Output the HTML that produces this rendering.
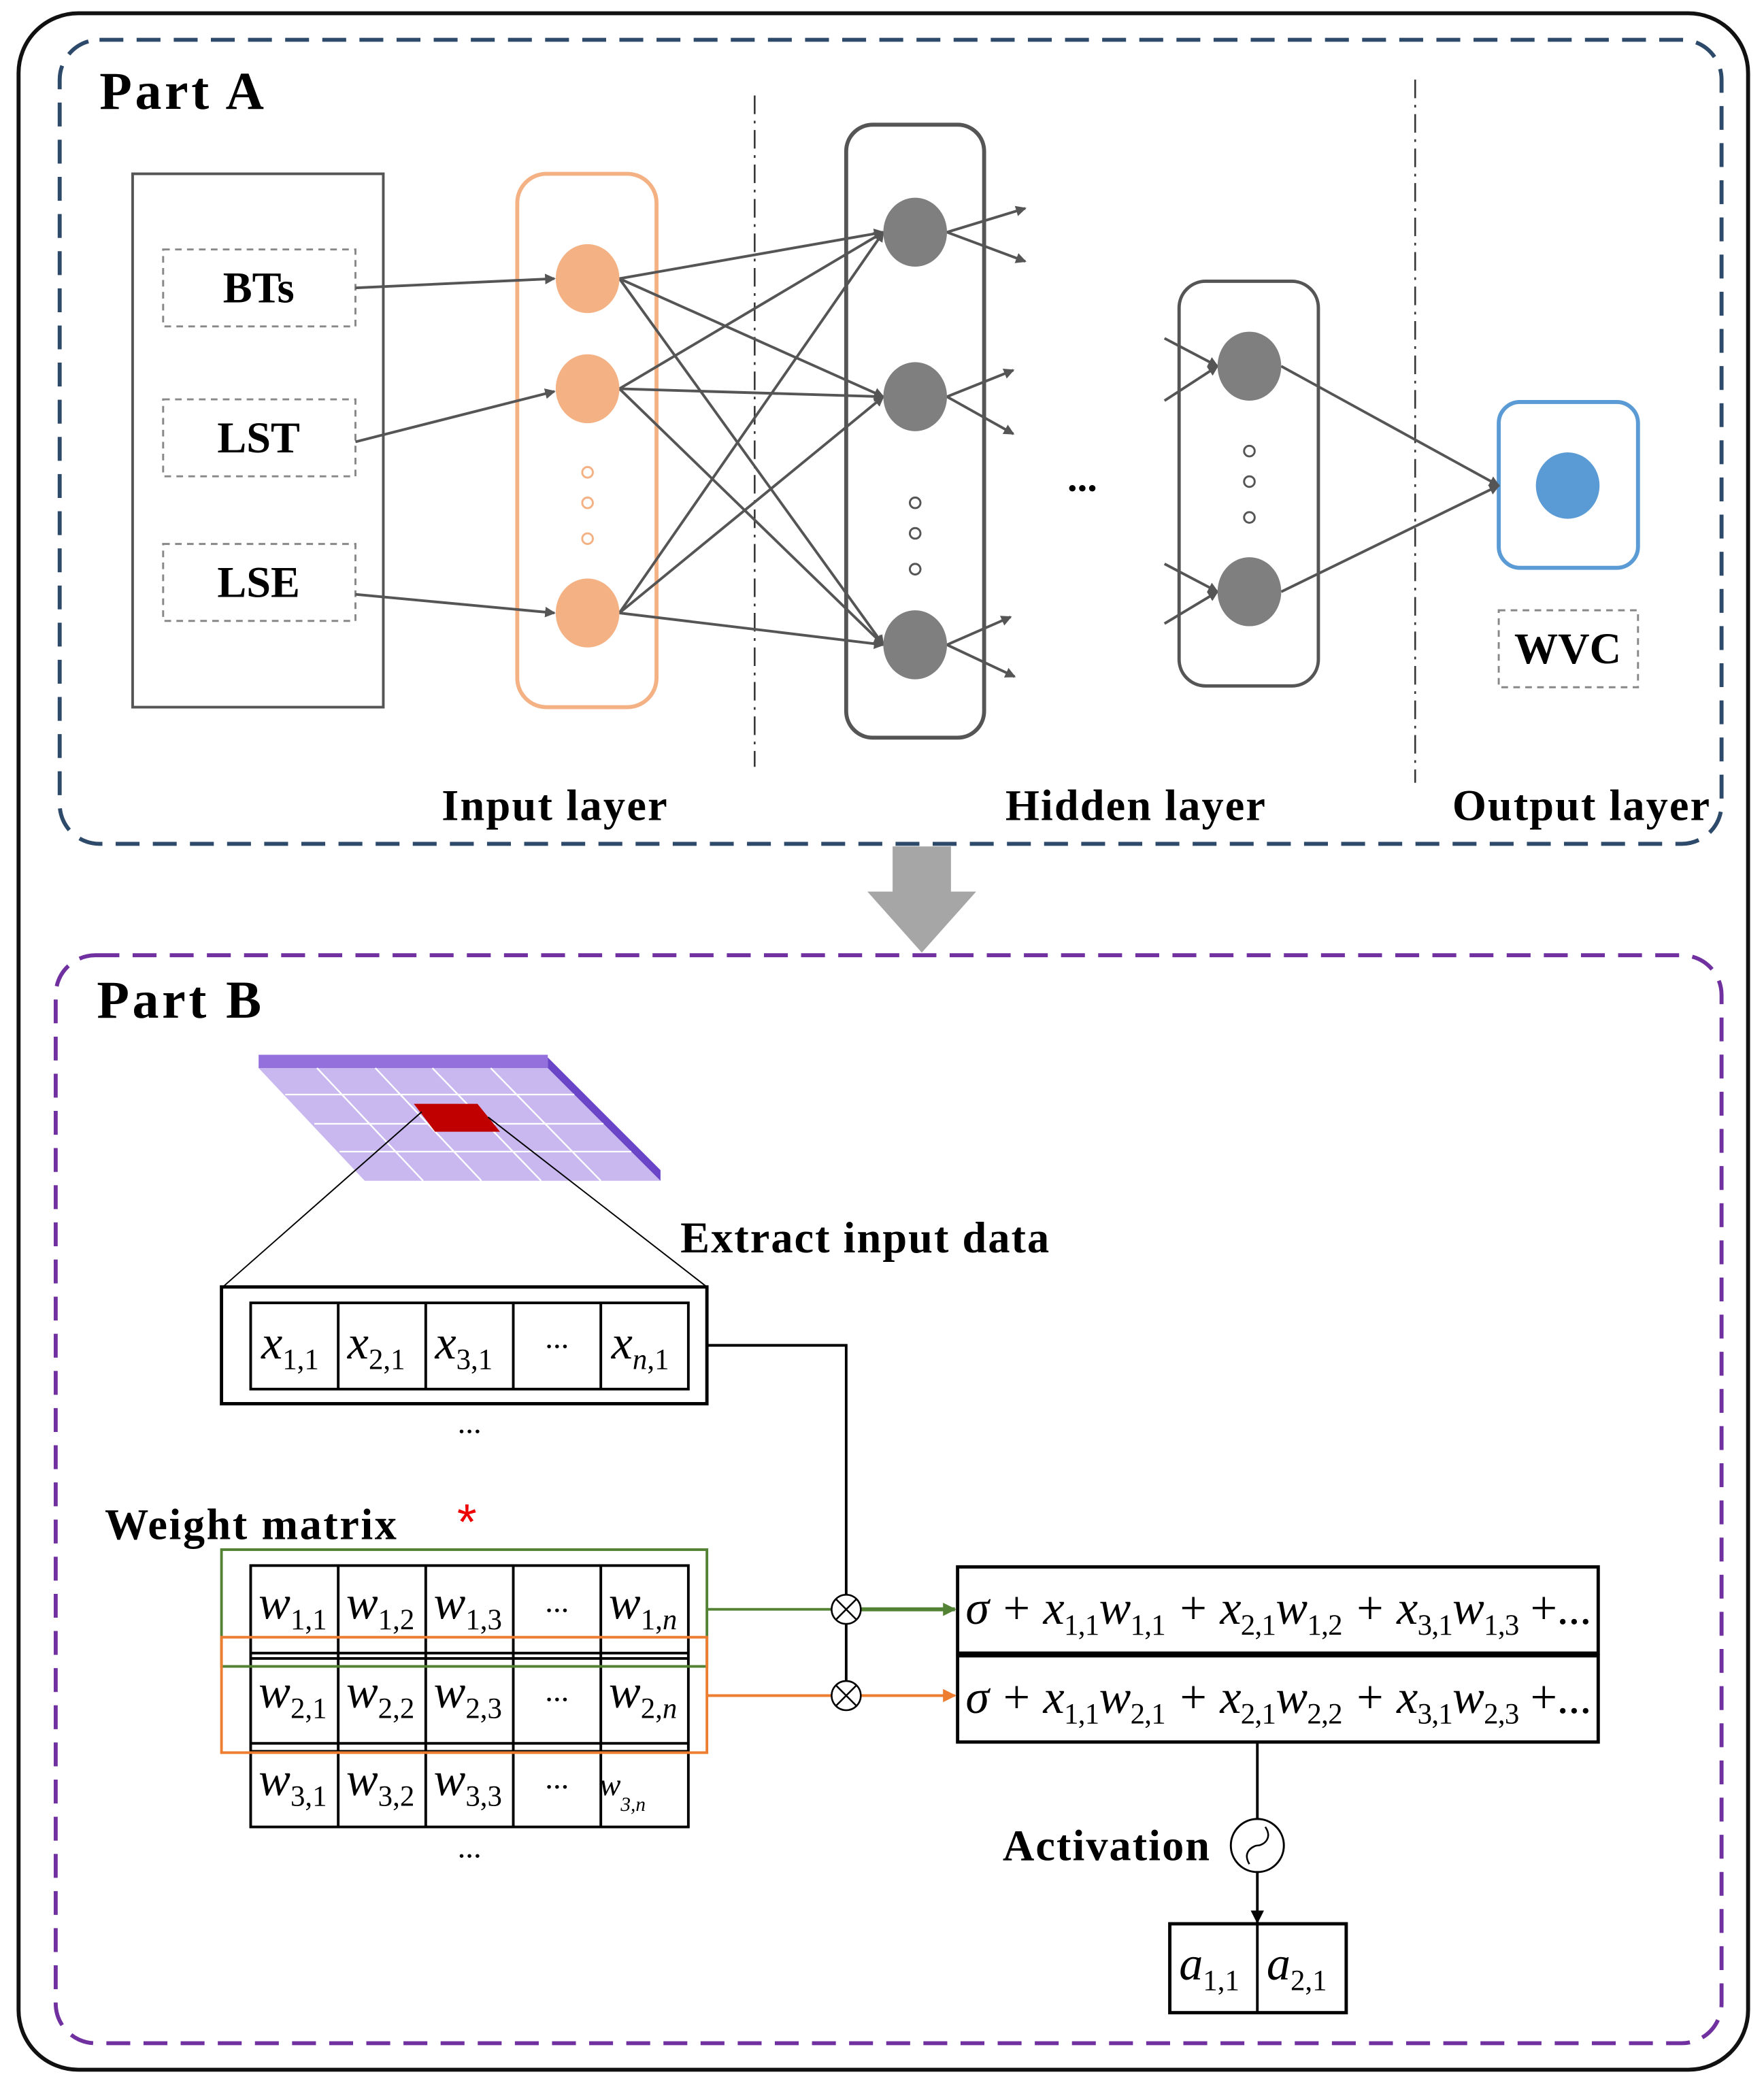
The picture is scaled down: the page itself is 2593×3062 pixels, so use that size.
<!DOCTYPE html>
<html><head><meta charset="utf-8"><style>
html,body{margin:0;padding:0;background:#fff}
svg{display:block}
.b{font-family:"Liberation Serif",serif;font-weight:bold}
.m{font-family:"Liberation Serif",serif;font-style:italic}
.s{font-style:normal;font-size:22px}
</style></head><body>
<svg width="2593" height="3062" viewBox="0 0 1330 1570" preserveAspectRatio="none" xmlns="http://www.w3.org/2000/svg">
<defs>
<marker id="ag" markerWidth="8" markerHeight="8" refX="7" refY="4" orient="auto" markerUnits="userSpaceOnUse"><path d="M0,0 L8,4 L0,8 Z" fill="#555"/></marker>
<marker id="ak" markerWidth="10" markerHeight="10" refX="9" refY="5" orient="auto" markerUnits="userSpaceOnUse"><path d="M0,0 L10,5 L0,10 Z" fill="#000"/></marker>
<marker id="agr" markerWidth="10" markerHeight="10" refX="9" refY="5" orient="auto" markerUnits="userSpaceOnUse"><path d="M0,0 L10,5 L0,10 Z" fill="#548235"/></marker>
<marker id="aor" markerWidth="10" markerHeight="10" refX="9" refY="5" orient="auto" markerUnits="userSpaceOnUse"><path d="M0,0 L10,5 L0,10 Z" fill="#ed7d31"/></marker>
</defs>
<rect x="14" y="10" width="1304" height="1550" rx="45" fill="none" stroke="#111" stroke-width="3"/>
<rect x="45" y="30" width="1253" height="606" rx="30" fill="none" stroke="#2e4a6b" stroke-width="3" stroke-dasharray="18,10"/>
<text x="75" y="82" class="b" font-size="40" textLength="124">Part A</text>
<rect x="100" y="131" width="189" height="402" fill="none" stroke="#555" stroke-width="2"/>
<g fill="none" stroke="#888" stroke-width="1.5" stroke-dasharray="5,4">
<rect x="123" y="188" width="145" height="58"/><rect x="123" y="301" width="145" height="58"/><rect x="123" y="410" width="145" height="58"/>
<rect x="1130" y="460" width="105" height="58"/>
</g>
<g class="b" font-size="33" text-anchor="middle">
<text x="195" y="228">BTs</text><text x="195" y="341">LST</text><text x="195" y="450">LSE</text>
<text x="1182" y="500">WVC</text>
<text x="418" y="618" textLength="170">Input layer</text><text x="856" y="618" textLength="196">Hidden layer</text><text x="1192" y="618" textLength="194">Output layer</text>
</g>
<rect x="390" y="131" width="105" height="402" rx="22" fill="none" stroke="#f4b183" stroke-width="3"/>
<g stroke="#333" stroke-width="1.3" stroke-dasharray="14,5,2,5">
<line x1="569" y1="72" x2="569" y2="578"/><line x1="1067" y1="60" x2="1067" y2="590"/>
</g>
<rect x="638" y="94" width="104" height="462" rx="20" fill="none" stroke="#555" stroke-width="3"/>
<rect x="889" y="212" width="105" height="305" rx="20" fill="none" stroke="#555" stroke-width="2.5"/>
<rect x="1130" y="303" width="105" height="125" rx="16" fill="none" stroke="#5b9bd5" stroke-width="3"/>
<g stroke="#555" stroke-width="2" fill="none" marker-end="url(#ag)">
<line x1="268" y1="217" x2="418" y2="210"/><line x1="268" y1="333" x2="418" y2="295"/><line x1="268" y1="448" x2="418" y2="462"/>
<line x1="467" y1="210" x2="666" y2="175"/><line x1="467" y1="210" x2="666" y2="299"/><line x1="467" y1="210" x2="666" y2="486"/>
<line x1="467" y1="293" x2="666" y2="175"/><line x1="467" y1="293" x2="666" y2="299"/><line x1="467" y1="293" x2="666" y2="486"/>
<line x1="467" y1="462" x2="666" y2="175"/><line x1="467" y1="462" x2="666" y2="299"/><line x1="467" y1="462" x2="666" y2="486"/>
<line x1="714" y1="175" x2="773" y2="157"/><line x1="714" y1="175" x2="773" y2="197"/>
<line x1="714" y1="299" x2="764" y2="279"/><line x1="714" y1="299" x2="764" y2="327"/>
<line x1="714" y1="486" x2="762" y2="465"/><line x1="714" y1="486" x2="765" y2="510"/>
<line x1="878" y1="255" x2="918" y2="276"/><line x1="878" y1="302" x2="918" y2="276"/>
<line x1="878" y1="425" x2="918" y2="446"/><line x1="878" y1="470" x2="918" y2="446"/>
<line x1="966" y1="276" x2="1130" y2="366"/><line x1="966" y1="446" x2="1130" y2="366"/>
</g>
<g fill="#f4b183"><ellipse cx="443" cy="210" rx="24" ry="26"/><ellipse cx="443" cy="293" rx="24" ry="26"/><ellipse cx="443" cy="462" rx="24" ry="26"/></g>
<g fill="#7f7f7f"><ellipse cx="690" cy="175" rx="24" ry="26"/><ellipse cx="690" cy="299" rx="24" ry="26"/><ellipse cx="690" cy="486" rx="24" ry="26"/>
<ellipse cx="942" cy="276" rx="24" ry="26"/><ellipse cx="942" cy="446" rx="24" ry="26"/></g>
<ellipse cx="1182" cy="366" rx="24" ry="25" fill="#5b9bd5"/>
<g fill="none" stroke-width="1.5">
<g stroke="#f4b183"><circle cx="443" cy="356" r="4"/><circle cx="443" cy="379" r="4"/><circle cx="443" cy="406" r="4"/></g>
<g stroke="#555"><circle cx="690" cy="379" r="4"/><circle cx="690" cy="402" r="4"/><circle cx="690" cy="429" r="4"/>
<circle cx="942" cy="340" r="4"/><circle cx="942" cy="363" r="4"/><circle cx="942" cy="390" r="4"/></g>
</g>
<text x="816" y="370" class="b" font-size="30" text-anchor="middle">...</text>
<path d="M673,638 H717 V672 H736 L695,718 L654,672 H673 Z" fill="#a6a6a6"/>
<rect x="42" y="720" width="1256" height="820" rx="30" fill="none" stroke="#7030a0" stroke-width="3" stroke-dasharray="18,10"/>
<text x="73" y="767" class="b" font-size="40" textLength="124">Part B</text>
<polygon points="195,805 413,805 498,890 275,890" fill="#c9b8ef"/>
<rect x="195" y="795" width="218" height="10" fill="#9370db"/>
<polygon points="413,797 498,882 498,890 413,805" fill="#6a45c8"/>
<g stroke="#fff" stroke-width="1.2">
<line x1="215" y1="825" x2="433" y2="825"/><line x1="237" y1="847" x2="455" y2="847"/><line x1="256" y1="868" x2="476" y2="868"/>
<line x1="239" y1="805" x2="319" y2="890"/><line x1="283" y1="805" x2="363" y2="890"/><line x1="326" y1="805" x2="408" y2="890"/><line x1="370" y1="805" x2="453" y2="890"/>
</g>
<polygon points="312,832 360,832 377,853 328,853" fill="#c00000"/>
<line x1="318" y1="838" x2="168" y2="970" stroke="#000" stroke-width="1"/>
<line x1="368" y1="842" x2="533" y2="970" stroke="#000" stroke-width="1"/>
<text x="513" y="944" class="b" font-size="33" textLength="278">Extract input data</text>
<rect x="167" y="970" width="366" height="88" fill="none" stroke="#000" stroke-width="2.5"/>
<g fill="none" stroke="#000" stroke-width="2">
<rect x="189" y="982" width="330" height="65"/>
<line x1="255" y1="982" x2="255" y2="1047"/><line x1="321" y1="982" x2="321" y2="1047"/><line x1="387" y1="982" x2="387" y2="1047"/><line x1="453" y1="982" x2="453" y2="1047"/>
<rect x="189" y="1180" width="330" height="197"/>
<line x1="189" y1="1246" x2="519" y2="1246"/><line x1="189" y1="1250" x2="519" y2="1250"/>
<line x1="189" y1="1314" x2="519" y2="1314"/><line x1="189" y1="1320" x2="519" y2="1320"/>
<line x1="255" y1="1180" x2="255" y2="1377"/><line x1="321" y1="1180" x2="321" y2="1377"/><line x1="387" y1="1180" x2="387" y2="1377"/><line x1="453" y1="1180" x2="453" y2="1377"/>
</g>
<g class="m" font-size="36">
<text x="197" y="1024">x<tspan class="s" dy="8">1,1</tspan></text>
<text x="262" y="1024">x<tspan class="s" dy="8">2,1</tspan></text>
<text x="328" y="1024">x<tspan class="s" dy="8">3,1</tspan></text>
<text x="461" y="1024">x<tspan font-size="22" dy="8">n</tspan><tspan class="s">,1</tspan></text>
<text x="195" y="1220">w<tspan class="s" dy="8">1,1</tspan></text>
<text x="261" y="1220">w<tspan class="s" dy="8">1,2</tspan></text>
<text x="327" y="1220">w<tspan class="s" dy="8">1,3</tspan></text>
<text x="459" y="1220">w<tspan class="s" dy="8">1,</tspan><tspan font-size="22">n</tspan></text>
<text x="195" y="1287">w<tspan class="s" dy="8">2,1</tspan></text>
<text x="261" y="1287">w<tspan class="s" dy="8">2,2</tspan></text>
<text x="327" y="1287">w<tspan class="s" dy="8">2,3</tspan></text>
<text x="459" y="1287">w<tspan class="s" dy="8">2,</tspan><tspan font-size="22">n</tspan></text>
<text x="195" y="1353">w<tspan class="s" dy="8">3,1</tspan></text>
<text x="261" y="1353">w<tspan class="s" dy="8">3,2</tspan></text>
<text x="327" y="1353">w<tspan class="s" dy="8">3,3</tspan></text>
<text x="452" y="1353" font-size="24">w<tspan font-size="15" dy="12">3,n</tspan></text>
<text x="728" y="1224" textLength="472" lengthAdjust="spacing">σ + x<tspan class="s" dy="8">1,1</tspan><tspan dy="-8">w</tspan><tspan class="s" dy="8">1,1</tspan><tspan dy="-8"> + x</tspan><tspan class="s" dy="8">2,1</tspan><tspan dy="-8">w</tspan><tspan class="s" dy="8">1,2</tspan><tspan dy="-8"> + x</tspan><tspan class="s" dy="8">3,1</tspan><tspan dy="-8">w</tspan><tspan class="s" dy="8">1,3</tspan><tspan dy="-8" font-style="normal"> +...</tspan></text>
<text x="728" y="1291" textLength="472" lengthAdjust="spacing">σ + x<tspan class="s" dy="8">1,1</tspan><tspan dy="-8">w</tspan><tspan class="s" dy="8">2,1</tspan><tspan dy="-8"> + x</tspan><tspan class="s" dy="8">2,1</tspan><tspan dy="-8">w</tspan><tspan class="s" dy="8">2,2</tspan><tspan dy="-8"> + x</tspan><tspan class="s" dy="8">3,1</tspan><tspan dy="-8">w</tspan><tspan class="s" dy="8">2,3</tspan><tspan dy="-8" font-style="normal"> +...</tspan></text>
<text x="889" y="1492">a<tspan class="s" dy="8">1,1</tspan></text>
<text x="955" y="1492">a<tspan class="s" dy="8">2,1</tspan></text>
</g>
<g font-family="Liberation Serif,serif" font-size="24" text-anchor="middle">
<text x="420" y="1016">...</text><text x="420" y="1215">...</text><text x="420" y="1282">...</text><text x="420" y="1348">...</text>
<text x="354" y="1080">...</text><text x="354" y="1400">...</text>
</g>
<rect x="167" y="1168" width="366" height="88" fill="none" stroke="#548235" stroke-width="2"/>
<rect x="167" y="1234" width="366" height="87" fill="none" stroke="#ed7d31" stroke-width="2"/>
<text x="79" y="1160" class="b" font-size="33" textLength="220">Weight matrix</text>
<text x="352" y="1160" font-family="Liberation Sans,sans-serif" font-size="38" fill="#e00" text-anchor="middle">*</text>
<polyline points="533,1014 638,1014 638,1278" fill="none" stroke="#000" stroke-width="2"/>
<line x1="533" y1="1213" x2="627" y2="1213" stroke="#548235" stroke-width="2"/>
<line x1="649" y1="1213" x2="720" y2="1213" stroke="#548235" stroke-width="3" marker-end="url(#agr)"/>
<line x1="533" y1="1278" x2="627" y2="1278" stroke="#ed7d31" stroke-width="2"/>
<line x1="649" y1="1278" x2="720" y2="1278" stroke="#ed7d31" stroke-width="2" marker-end="url(#aor)"/>
<g fill="#fff" stroke="#000" stroke-width="1.3">
<circle cx="638" cy="1213" r="11"/><line x1="630" y1="1205" x2="646" y2="1221"/><line x1="646" y1="1205" x2="630" y2="1221"/>
<circle cx="638" cy="1278" r="11"/><line x1="630" y1="1270" x2="646" y2="1286"/><line x1="646" y1="1270" x2="630" y2="1286"/>
</g>
<rect x="722" y="1181" width="483" height="65" fill="none" stroke="#000" stroke-width="2.5"/>
<rect x="722" y="1248" width="483" height="65" fill="none" stroke="#000" stroke-width="2.5"/>
<line x1="948" y1="1313" x2="948" y2="1371" stroke="#000" stroke-width="2"/>
<line x1="948" y1="1411" x2="948" y2="1449" stroke="#000" stroke-width="2" marker-end="url(#ak)"/>
<circle cx="948" cy="1391" r="20" fill="#fff" stroke="#000" stroke-width="1.5"/>
<path d="M942,1405 C936,1395 946,1391 948,1391 C952,1391 960,1386 954,1377" fill="none" stroke="#000" stroke-width="1.3"/>
<text x="912" y="1402" class="b" font-size="33" text-anchor="end" textLength="156">Activation</text>
<rect x="882" y="1450" width="133" height="67" fill="none" stroke="#000" stroke-width="2.5"/>
<line x1="948" y1="1450" x2="948" y2="1517" stroke="#000" stroke-width="2"/>
</svg>
</body></html>
